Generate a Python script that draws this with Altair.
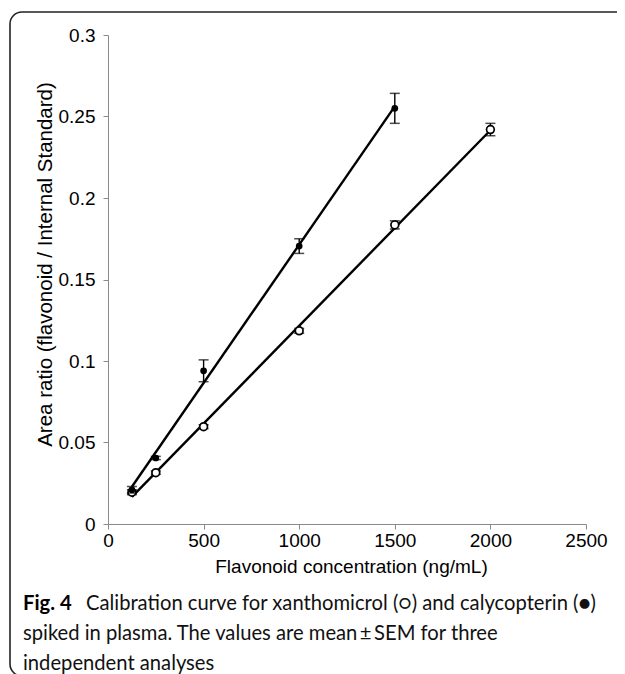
import altair as alt
import pandas as pd

# ---- data ----
x_xan = [125, 250, 500, 1000, 1500, 2000]
y_xan = [0.0195, 0.0315, 0.0597, 0.1185, 0.1835, 0.242]
e_xan = [0.0015, 0.001, 0.0012, 0.0015, 0.0025, 0.0038]

x_cal = [125, 250, 500, 1000, 1500]
y_cal = [0.021, 0.0405, 0.094, 0.1705, 0.255]
e_cal = [0.002, 0.001, 0.0067, 0.0045, 0.0092]

x_ticks = [0, 500, 1000, 1500, 2000, 2500]
y_ticks = [0, 0.05, 0.1, 0.15, 0.2, 0.25, 0.3]

x_title = "Flavonoid concentration (ng/mL)"
y_title = "Area ratio (flavonoid / Internal Standard)"
caption_bold = "Fig. 4"
caption_lines = [
    "Calibration curve for xanthomicrol (\u25cb) and calycopterin (\u25cf)",
    "spiked in plasma. The values are mean\u2009\u00b1\u2009SEM for three",
    "independent analyses",
]

W, H = 478, 489
AX_FONT = "Liberation Sans"
CAP_FONT = "Lato"
CAP_SIZE = 20.2

df_xan = pd.DataFrame({"x": x_xan, "y": y_xan, "lo": [a - b for a, b in zip(y_xan, e_xan)],
                       "hi": [a + b for a, b in zip(y_xan, e_xan)]})
df_cal = pd.DataFrame({"x": x_cal, "y": y_cal, "lo": [a - b for a, b in zip(y_cal, e_cal)],
                       "hi": [a + b for a, b in zip(y_cal, e_cal)]})

xaxis = alt.Axis(values=x_ticks, title=x_title, grid=False, domainColor="#8a8a8a", tickColor="#8a8a8a",
                 tickSize=5, labelFontSize=19, labelFont=AX_FONT, labelColor="black", labelPadding=2,
                 format="d", titleFont=AX_FONT, titleFontSize=19, titleFontWeight="normal",
                 titleColor="black", titleX=243, titleY=48, titleBaseline="alphabetic",
                 titleAlign="center", labelFlush=False)
yaxis = alt.Axis(values=y_ticks, title=y_title, grid=False, domainColor="#8a8a8a", tickColor="#8a8a8a",
                 tickSize=5, labelFontSize=19, labelFont=AX_FONT, labelColor="black", labelPadding=8,
                 format="~g", titleFont=AX_FONT, titleFontSize=20.5, titleFontWeight="normal",
                 titleColor="black", titleAngle=-90, titleX=-57, titleY=229, titleBaseline="alphabetic",
                 titleAlign="center", labelFlush=False)

X = alt.X("x:Q", scale=alt.Scale(domain=[0, 2500], nice=False, zero=False), axis=xaxis)
Y = alt.Y("y:Q", scale=alt.Scale(domain=[0, 0.3], nice=False, zero=False), axis=yaxis)


def series_layers(df, filled):
    base = alt.Chart(df)
    line = base.mark_line(color="black", strokeWidth=2.4).transform_regression("x", "y").encode(x=X, y=Y)
    rule = base.mark_rule(color="black", strokeWidth=1.4).encode(
        x=X, y=alt.Y("lo:Q"), y2="hi:Q")
    cap_lo = base.mark_tick(color="black", orient="horizontal", size=10, thickness=1.5).encode(
        x=X, y=alt.Y("lo:Q"))
    cap_hi = base.mark_tick(color="black", orient="horizontal", size=10, thickness=1.5).encode(
        x=X, y=alt.Y("hi:Q"))
    if filled:
        pts = base.mark_point(shape="circle", filled=True, color="black", size=45, opacity=1).encode(x=X, y=Y)
    else:
        pts = base.mark_point(shape="circle", filled=False, color="black", fill="white", size=60,
                              strokeWidth=1.7, opacity=1).encode(x=X, y=Y)
    return [line, rule, cap_lo, cap_hi, pts]


one = pd.DataFrame({"k": [0]})
frame = alt.Chart(one).mark_rect(cornerRadiusTopLeft=12, cornerRadiusBottomLeft=12,
                                  cornerRadiusTopRight=0, cornerRadiusBottomRight=0,
                                  fill="white", fillOpacity=0, stroke="#222222",
                                  strokeWidth=1.6).encode(
    x=alt.value(-98), x2=alt.value(530), y=alt.value(-23), y2=alt.value(641))


def cap_text(txt, x, y, bold=False):
    return alt.Chart(one).mark_text(text=txt, font=CAP_FONT, fontWeight="bold" if bold else "normal",
                                    fontSize=CAP_SIZE, align="left", baseline="alphabetic",
                                    color="black" if bold else "#111111").encode(
        x=alt.value(x), y=alt.value(y))


caps = [
    cap_text(caption_bold, -85, 575, bold=True),
    cap_text(caption_lines[0], -22, 575),
    cap_text(caption_lines[1], -85, 605),
    cap_text(caption_lines[2], -85, 635),
]

layers = [frame] + series_layers(df_xan, False) + series_layers(df_cal, True) + caps

chart = alt.layer(*layers).properties(
    width=W, height=H,
    autosize=alt.AutoSizeParams(type="none"),
    padding={"left": 100, "top": 27, "right": 31, "bottom": 150},
    background="white",
).configure_view(stroke=None)

chart.save("out.html", embed_options={"renderer": "svg", "actions": False})
